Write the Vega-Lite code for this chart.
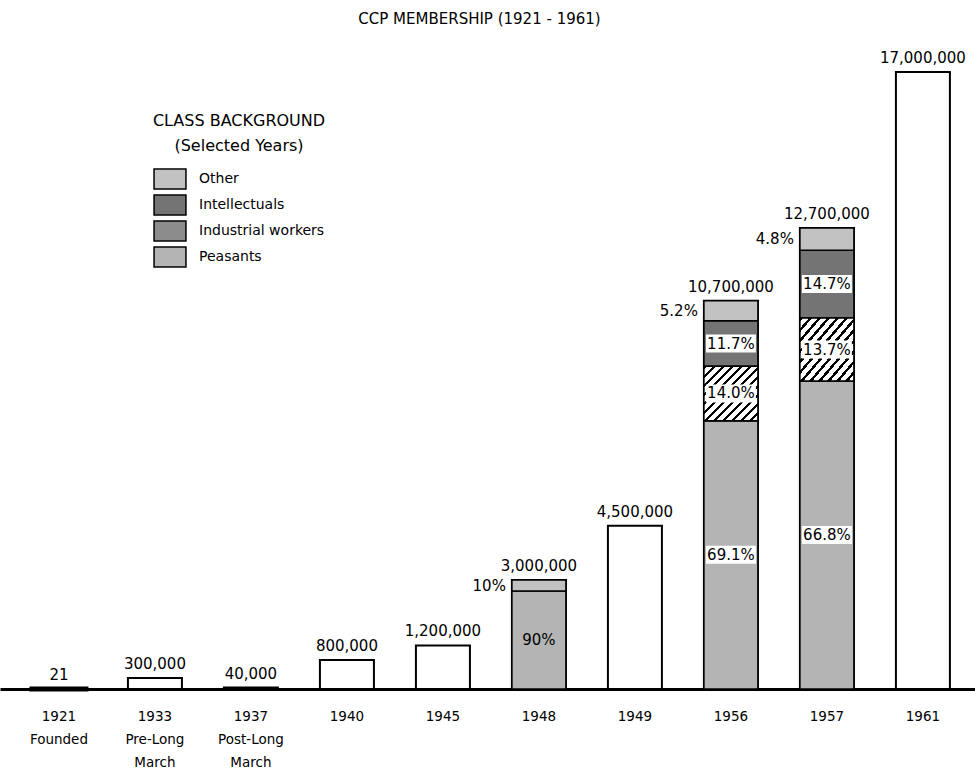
{
"$schema":"https://vega.github.io/schema/vega-lite/v6.json",
"width":975,"height":617,
"autosize":{"type":"none"},
"padding":{"top":72,"left":0,"right":0,"bottom":84},
"background":"white",
"title":{"text":"CCP MEMBERSHIP (1921 - 1961)","anchor":"middle","fontSize":15,"fontWeight":"normal","font":"DejaVu Sans","color":"black","dx":-8,"dy":-20},
"datasets":{
"totals":[
{"xl":"1921|Founded","members":21},
{"xl":"1933|Pre-Long|March","members":300000},
{"xl":"1937|Post-Long|March","members":40000},
{"xl":"1940","members":800000},
{"xl":"1945","members":1200000},
{"xl":"1948","members":3000000},
{"xl":"1949","members":4500000},
{"xl":"1956","members":10700000},
{"xl":"1957","members":12700000},
{"xl":"1961","members":17000000}],
"classes":[
{"xl":"1948","cls":"Peasants","k":1,"members":2700000,"pct":"90%"},
{"xl":"1948","cls":"Other","k":4,"members":300000,"pct":"10%"},
{"xl":"1956","cls":"Peasants","k":1,"members":7393700,"pct":"69.1%"},
{"xl":"1956","cls":"Industrial workers","k":2,"members":1498000,"pct":"14.0%"},
{"xl":"1956","cls":"Intellectuals","k":3,"members":1251900,"pct":"11.7%"},
{"xl":"1956","cls":"Other","k":4,"members":556400,"pct":"5.2%"},
{"xl":"1957","cls":"Peasants","k":1,"members":8483600,"pct":"66.8%"},
{"xl":"1957","cls":"Industrial workers","k":2,"members":1739900,"pct":"13.7%"},
{"xl":"1957","cls":"Intellectuals","k":3,"members":1866900,"pct":"14.7%"},
{"xl":"1957","cls":"Other","k":4,"members":609600,"pct":"4.8%"}]
},
"encoding":{"x":{"field":"xl","type":"nominal",
 "sort":["1921|Founded","1933|Pre-Long|March","1937|Post-Long|March","1940","1945","1948","1949","1956","1957","1961"],
 "scale":{"type":"band","paddingInner":0.4375,"paddingOuter":0.297,"align":0.56},
 "axis":{"title":null,"labelAngle":0,"ticks":false,"domainWidth":3,"domainColor":"black","labelFontSize":13.5,"labelLineHeight":23,"labelPadding":20,"labelExpr":"split(datum.value, '|')","labelColor":"black","labelOverlap":false,"labelFont":"DejaVu Sans"}}},
"layer":[
{"data":{"name":"totals"},"mark":{"type":"bar","fill":"white","stroke":"black"},
 "encoding":{"y":{"field":"members","type":"quantitative","scale":{"domain":[0,17000000],"nice":false},"axis":null},
  "strokeWidth":{"condition":{"test":"datum.members < 100","value":5},"value":2}}},
{"data":{"name":"classes"},
 "transform":[{"stack":"members","groupby":["xl"],"sort":[{"field":"k","order":"ascending"}],"as":["y0","y1"]},{"calculate":"(datum.y0+datum.y1)/2","as":"ymid"}],
 "layer":[
  {"mark":{"type":"bar","stroke":"black","strokeWidth":1.5},
   "encoding":{"y":{"field":"y0","type":"quantitative","scale":{"domain":[0,17000000],"nice":false},"axis":null},"y2":{"field":"y1"},
    "color":{"field":"cls","type":"nominal","scale":{"domain":["Other","Intellectuals","Industrial workers","Peasants"],"range":["#c2c2c2","#747474","#8c8c8c","#b4b4b4"]},
     "legend":{"title":["CLASS BACKGROUND","(Selected Years)"],"orient":"none","legendX":153,"legendY":41,"titleFontSize":16,"titleFontWeight":"normal","titleAlign":"center","titleAnchor":"middle","titleLineHeight":25,"titlePadding":13,"titleColor":"black","titleFont":"DejaVu Sans","symbolType":"M-1.45,-0.9H1.45V0.9H-1.45Z","symbolSize":484,"symbolOffset":5,"symbolStrokeColor":"black","symbolStrokeWidth":1.5,"symbolOpacity":1,"labelFontSize":14,"labelOffset":17,"labelColor":"black","labelFont":"DejaVu Sans","rowPadding":0,"padding":0}}}},
  {"transform":[{"filter":"datum.cls == 'Industrial workers'"}],
   "mark":{"type":"bar","stroke":"black","strokeWidth":1.5,"fill":{"gradient":"linear","x1":0,"y1":0,"x2":1,"y2":1,"stops":[{"offset":0,"color":"black"},{"offset":0.03,"color":"black"},{"offset":0.03,"color":"white"},{"offset":0.0833,"color":"white"},{"offset":0.0833,"color":"black"},{"offset":0.1133,"color":"black"},{"offset":0.1133,"color":"white"},{"offset":0.1667,"color":"white"},{"offset":0.1667,"color":"black"},{"offset":0.1967,"color":"black"},{"offset":0.1967,"color":"white"},{"offset":0.25,"color":"white"},{"offset":0.25,"color":"black"},{"offset":0.28,"color":"black"},{"offset":0.28,"color":"white"},{"offset":0.3333,"color":"white"},{"offset":0.3333,"color":"black"},{"offset":0.3633,"color":"black"},{"offset":0.3633,"color":"white"},{"offset":0.4167,"color":"white"},{"offset":0.4167,"color":"black"},{"offset":0.4467,"color":"black"},{"offset":0.4467,"color":"white"},{"offset":0.5,"color":"white"},{"offset":0.5,"color":"black"},{"offset":0.53,"color":"black"},{"offset":0.53,"color":"white"},{"offset":0.5833,"color":"white"},{"offset":0.5833,"color":"black"},{"offset":0.6133,"color":"black"},{"offset":0.6133,"color":"white"},{"offset":0.6667,"color":"white"},{"offset":0.6667,"color":"black"},{"offset":0.6967,"color":"black"},{"offset":0.6967,"color":"white"},{"offset":0.75,"color":"white"},{"offset":0.75,"color":"black"},{"offset":0.78,"color":"black"},{"offset":0.78,"color":"white"},{"offset":0.8333,"color":"white"},{"offset":0.8333,"color":"black"},{"offset":0.8633,"color":"black"},{"offset":0.8633,"color":"white"},{"offset":0.9167,"color":"white"},{"offset":0.9167,"color":"black"},{"offset":0.9467,"color":"black"},{"offset":0.9467,"color":"white"},{"offset":1,"color":"white"}]}},
   "encoding":{"y":{"field":"y0","type":"quantitative","scale":{"domain":[0,17000000],"nice":false}},"y2":{"field":"y1"}}},
  {"transform":[{"filter":"datum.cls != 'Other' && datum.xl != '1948'"}],
   "mark":{"type":"tick","color":"white","thickness":18,"size":50,"opacity":1,"strokeWidth":0},
   "encoding":{"y":{"field":"ymid","type":"quantitative","scale":{"domain":[0,17000000],"nice":false}}}},
  {"transform":[{"filter":"datum.cls != 'Other'"}],
   "mark":{"type":"text","fontSize":15,"baseline":"middle","color":"black","font":"DejaVu Sans"},
   "encoding":{"y":{"field":"ymid","type":"quantitative","scale":{"domain":[0,17000000],"nice":false}},"text":{"field":"pct"}}},
  {"transform":[{"filter":"datum.cls == 'Other'"}],
   "mark":{"type":"text","fontSize":15,"baseline":"middle","align":"right","dx":-33,"color":"black","font":"DejaVu Sans"},
   "encoding":{"y":{"field":"ymid","type":"quantitative","scale":{"domain":[0,17000000],"nice":false}},"text":{"field":"pct"}}}
 ]},
{"data":{"name":"totals"},"mark":{"type":"text","fontSize":15,"baseline":"alphabetic","dy":-9,"color":"black","font":"DejaVu Sans"},
 "encoding":{"y":{"field":"members","type":"quantitative","scale":{"domain":[0,17000000],"nice":false}},"text":{"field":"members","type":"quantitative","format":","}}}
],
"config":{"view":{"stroke":null},"font":"DejaVu Sans"}
}
